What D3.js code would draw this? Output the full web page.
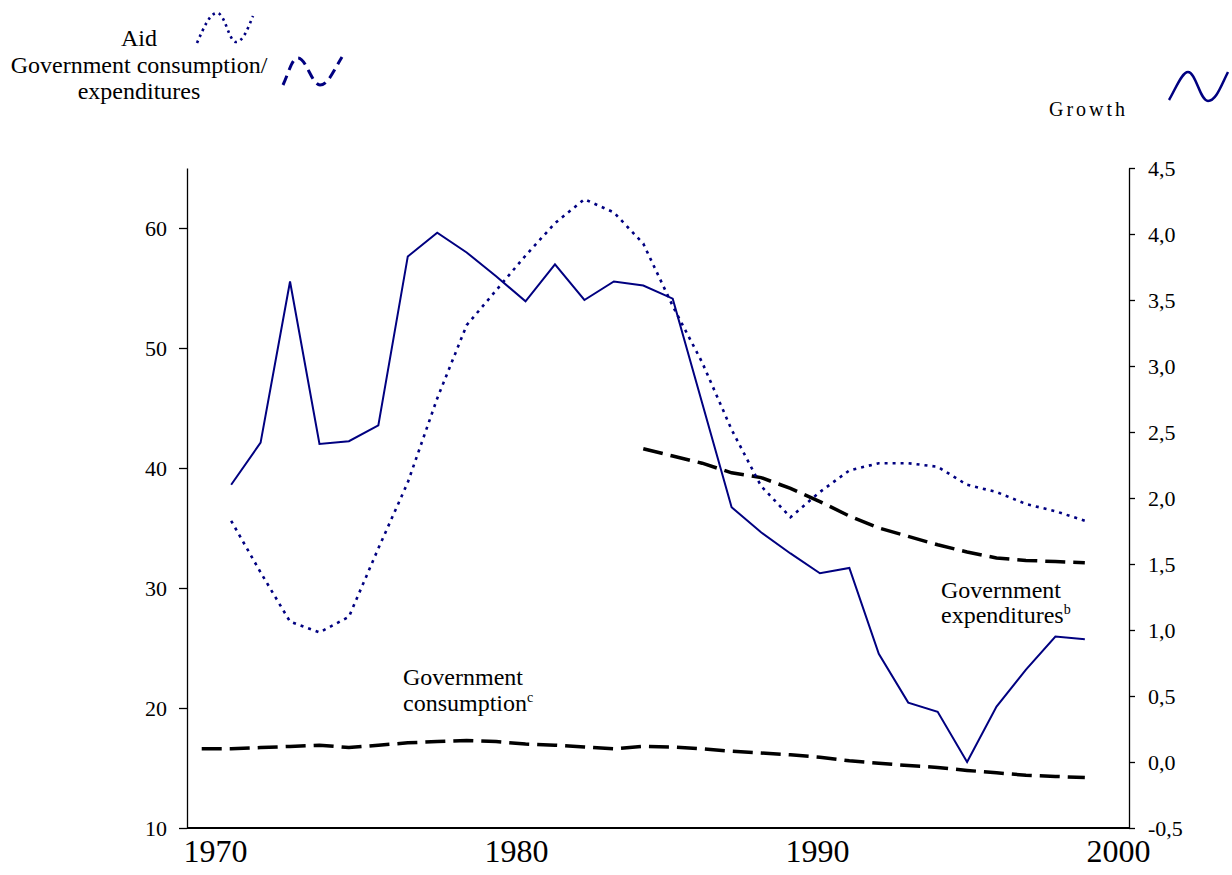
<!DOCTYPE html>
<html>
<head>
<meta charset="utf-8">
<title></title>
<script src="https://d3js.org/d3.v7.min.js"></script>
<style>
  body { margin: 0; background: #fff; }
  .axis path, .axis line { stroke: #000; stroke-width: 1.3px; }
</style>
</head>
<body>
<script>
// years on the category axis (1969 .. 2000)
var allYears = d3.range(1969, 2001);
var growthYears = d3.range(1970, 2000);
var consYears = d3.range(1969, 2000);
var expYears = d3.range(1984, 2000);

// growth (right axis)
var growth = [2.10, 2.42, 3.64, 2.41, 2.43, 2.55, 3.83, 4.01, 3.86, 3.68,
              3.49, 3.77, 3.50, 3.64, 3.61, 3.51, 2.72, 1.93, 1.74, 1.58,
              1.43, 1.47, 0.82, 0.45, 0.38, 0.00, 0.42, 0.70, 0.95, 0.93];
// aid (left axis)
var aid = [35.6, 31.3, 27.2, 26.3, 27.6, 33.3, 38.8, 45.8, 51.9, 54.8,
           57.7, 60.4, 62.4, 61.3, 58.7, 53.5, 48.8, 43.2, 38.5, 35.9,
           38.0, 39.8, 40.4, 40.4, 40.1, 38.6, 38.0, 37.0, 36.4, 35.6];
// government consumption (left axis)
var govCons = [16.6, 16.6, 16.7, 16.8, 16.9, 16.7, 16.9, 17.1, 17.2, 17.3, 17.2,
               17.0, 16.9, 16.75, 16.6, 16.8, 16.75, 16.6, 16.4, 16.25, 16.1,
               15.9, 15.6, 15.4, 15.2, 15.05, 14.8, 14.6, 14.4, 14.3, 14.2];
// government expenditures (left axis)
var govExp = [41.6, 41.0, 40.4, 39.6, 39.2, 38.3, 37.2, 36.0, 35.0, 34.3,
              33.6, 33.0, 32.5, 32.3, 32.2, 32.1];

var leftTicks = [10, 20, 30, 40, 50, 60];
var rightTicks = [-0.5, 0, 0.5, 1, 1.5, 2, 2.5, 3, 3.5, 4, 4.5];
var yearLabels = [1970, 1980, 1990, 2000];

var width = 1232, height = 875;
var plot = {left: 187, right: 1129, top: 168, bottom: 828};
var navy = "#000080";
var serif = "'Liberation Serif', 'Times New Roman', Times, serif";

var svg = d3.select("body").append("svg")
    .attr("width", width)
    .attr("height", height);

var x = d3.scalePoint().domain(allYears).range([plot.left, plot.right]).padding(0.5);
var yL = d3.scaleLinear().domain([10, 65]).range([plot.bottom, plot.top]);
var yR = d3.scaleLinear().domain([-0.5, 4.5]).range([plot.bottom, plot.top]);
// year labels sit on their own scale, as in the original
var xLab = d3.scaleLinear().domain([1970, 2000]).range([215, 1118]);

// left axis
var gl = svg.append("g").attr("class", "axis")
    .attr("transform", "translate(" + plot.left + ",0)")
    .call(d3.axisLeft(yL).tickValues(leftTicks).tickSize(8).tickSizeOuter(0).tickPadding(12));
gl.attr("font-family", serif);
gl.selectAll("text").style("font-family", serif).style("font-size", "22px");

// right axis
var fmtR = function(d) { return d3.format(".1f")(d).replace(".", ",").replace("\u2212", "-"); };
var gr = svg.append("g").attr("class", "axis")
    .attr("transform", "translate(" + plot.right + ",0)")
    .call(d3.axisRight(yR).tickValues(rightTicks).tickFormat(fmtR).tickSize(6).tickSizeOuter(0).tickPadding(13));
gr.attr("font-family", serif);
gr.selectAll("text").style("font-family", serif).style("font-size", "22px");

// bottom line
svg.append("line")
    .attr("x1", plot.left).attr("x2", plot.right)
    .attr("y1", plot.bottom).attr("y2", plot.bottom)
    .attr("stroke", "#000").attr("stroke-width", 2);

// year labels
var gx = svg.append("g")
    .attr("transform", "translate(0," + (plot.bottom + 8) + ")")
    .call(d3.axisBottom(xLab).tickValues(yearLabels).tickFormat(d3.format("d")).tickSize(0).tickPadding(3));
gx.attr("font-family", serif);
gx.select(".domain").remove();
gx.selectAll("text").style("font-family", serif).style("font-size", "32px");

// series
function lineL(years) {
  return d3.line().x(function(d, i) { return x(years[i]); }).y(function(d) { return yL(d); });
}

svg.append("path").datum(govCons)
    .attr("d", lineL(consYears))
    .attr("fill", "none").attr("stroke", "#000").attr("stroke-width", 3.5)
    .attr("stroke-dasharray", "20,8");

svg.append("path").datum(govExp)
    .attr("d", lineL(expYears))
    .attr("fill", "none").attr("stroke", "#000").attr("stroke-width", 3.5)
    .attr("stroke-dasharray", "20,8");

svg.append("path").datum(aid)
    .attr("d", lineL(growthYears))
    .attr("fill", "none").attr("stroke", navy).attr("stroke-width", 2.6)
    .attr("stroke-dasharray", "3,5");

svg.append("path").datum(growth)
    .attr("d", d3.line().x(function(d, i) { return x(growthYears[i]); }).y(function(d) { return yR(d); }))
    .attr("fill", "none").attr("stroke", navy).attr("stroke-width", 2);

// annotations
function label(xp, yp, size) {
  return svg.append("text").attr("x", xp).attr("y", yp)
      .style("font-family", serif).style("font-size", size + "px");
}
var ann1 = label(403, 685, 24);
ann1.append("tspan").text("Government");
ann1.append("tspan").attr("x", 403).attr("y", 711).text("consumption");
ann1.append("tspan").attr("dy", -9).style("font-size", "14px").text("c");

var ann2 = label(941, 598, 24);
ann2.append("tspan").text("Government");
ann2.append("tspan").attr("x", 941).attr("y", 623).text("expenditures");
ann2.append("tspan").attr("dy", -9).style("font-size", "14px").text("b");

// legend
label(139, 46, 24).attr("text-anchor", "middle").text("Aid");
label(139, 73, 24).attr("text-anchor", "middle").text("Government consumption/");
label(139, 99, 24).attr("text-anchor", "middle").text("expenditures");
label(1049, 116, 20).style("letter-spacing", "3px").text("Growth");

svg.append("path")
    .attr("d", "M197,43 C204,27 210,13 217,13 C225,13 229,42 236,42 C243,42 248,28 253,16")
    .attr("fill", "none").attr("stroke", navy).attr("stroke-width", 2.6)
    .attr("stroke-dasharray", "2.5,4");
svg.append("path")
    .attr("d", "M283,85 C289,72 292,58 298,58 C306,58 312,85 320,85 C328,85 334,70 342,57")
    .attr("fill", "none").attr("stroke", navy).attr("stroke-width", 3)
    .attr("stroke-dasharray", "10,6");
svg.append("path")
    .attr("d", "M1169,100 C1176,88 1182,72 1188,72 C1196,72 1200,101 1208,101 C1216,101 1221,86 1228,72")
    .attr("fill", "none").attr("stroke", navy).attr("stroke-width", 2.5);
</script>
</body>
</html>
